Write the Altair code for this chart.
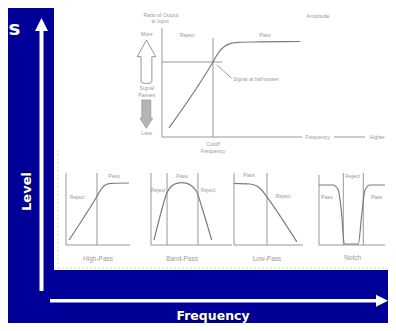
import altair as alt
import pandas as pd

# ---------------- data (normalised frequency 0..1, level 0..1) ----------------
main_freq = [0.05, 0.364, 0.40, 0.45, 0.498, 0.545, 0.70, 0.986]
main_level = [0.083, 0.688, 0.768, 0.835, 0.86, 0.869, 0.872, 0.876]
main_cutoff = 0.364
main_half_power = 0.688

hp_freq = [0.047, 0.48, 0.558, 0.636, 0.714, 0.984]
hp_level = [0.069, 0.671, 0.788, 0.843, 0.857, 0.861]
hp_cutoffs = [0.484]

bp_freq = [0.037, 0.132, 0.194, 0.255, 0.317, 0.379, 0.441, 0.503, 0.564, 0.626, 0.749]
bp_level = [0.069, 0.486, 0.718, 0.819, 0.856, 0.865, 0.856, 0.819, 0.74, 0.532, 0.069]
bp_cutoffs = [0.198, 0.58]

lp_freq = [0.0, 0.232, 0.329, 0.401, 0.474, 0.909]
lp_level = [0.857, 0.847, 0.819, 0.764, 0.671, 0.046]
lp_cutoffs = [0.478]

notch_freq = [0.0, 0.212, 0.292, 0.344, 0.383, 0.595, 0.647, 0.697, 0.773, 1.0]
notch_level = [0.857, 0.857, 0.786, 0.429, 0.014, 0.014, 0.429, 0.786, 0.857, 0.857]
notch_cutoffs = [0.368, 0.671]

main_labels = ["Ratio of Output", "to Input", "Amplitude", "Reject", "Pass",
               "Signal at half-power", "Frequency", "Higher", "Cutoff", "Frequency",
               "More", "Signal", "Passes", "Less"]
main_label_f = [-0.007, -0.014, 1.114, 0.179, 0.736, 0.671, 1.111, 1.536, 0.364, 0.364,
                -0.109, -0.109, -0.109, -0.109]
main_label_l = [1.119, 1.064, 1.11, 0.936, 0.936, 0.532, 0.0, 0.0, -0.064, -0.128,
                0.942, 0.452, 0.385, 0.034]

hp_labels = ["Reject", "Pass", "High-Pass"]
hp_label_f = [0.172, 0.75, 0.5]
hp_label_l = [0.667, 0.958, -0.194]

bp_labels = ["Reject", "Pass", "Reject", "Band-Pass"]
bp_label_f = [0.086, 0.383, 0.704, 0.383]
bp_label_l = [0.764, 0.958, 0.764, -0.194]

lp_labels = ["Pass", "Reject", "Low-Pass"]
lp_label_f = [0.217, 0.71, 0.478]
lp_label_l = [0.972, 0.681, -0.194]

notch_labels = ["Reject", "Pass", "Pass", "Notch"]
notch_label_f = [0.51, 0.117, 0.874, 0.51]
notch_label_l = [0.986, 0.69, 0.69, -0.186]

# ---------------- layout ----------------
OX, OY = 8, 8          # page margin
W, H = 380, 315
BLUE = "#000099"
LINE = "#7c7c7c"
TXT = "#9a9a9a"

# panel frames in page pixels: (x of level axis, end of freq axis, y of freq axis, top of level axis)
FRAME_MAIN = (162, 302, 137, 28)
FRAME_HP = (66, 130, 245, 173)
FRAME_BP = (151, 232, 245, 173)
FRAME_LP = (234, 303, 245, 173)
FRAME_NOTCH = (319, 385, 245, 175)


def lin(domain, rng):
    return alt.Scale(domain=domain, range=rng, nice=False, zero=False)


def panel(frame, freq, level, cutoffs, labels, lf, ll, name_idx=None,
          cutoff_top=1.0, extra_segs=None, extra_layers=None):
    x0, x1, yb, yt = frame
    xs = lin([0, 1], [x0 - OX, x1 - OX])
    ys = lin([0, 1], [yb - OY, yt - OY])

    curve = pd.DataFrame({"f": freq, "l": level, "i": range(len(freq))})
    segs = [(0, 0, 0, 1), (0, 0, 1, 0)] + [(c, 0, c, cutoff_top) for c in cutoffs]
    if extra_segs:
        segs += extra_segs
    seg_df = pd.DataFrame(segs, columns=["f", "l", "f2", "l2"])
    sizes = [5.2] * len(labels)
    if name_idx is not None:
        sizes[name_idx] = 6.5
    lab_df = pd.DataFrame({"t": labels, "f": lf, "l": ll, "fs": sizes})

    X = alt.X("f:Q", scale=xs, axis=None)
    Y = alt.Y("l:Q", scale=ys, axis=None)

    rules = alt.Chart(seg_df).mark_rule(color="#8c8c8c", strokeWidth=0.9).encode(
        x=X, y=Y, x2="f2:Q", y2="l2:Q")
    line = alt.Chart(curve).mark_line(color=LINE, strokeWidth=1.2, interpolate="monotone").encode(
        x=X, y=Y, order="i:Q")
    text = alt.Chart(lab_df).mark_text(color=TXT, font="Liberation Sans", baseline="middle").encode(
        x=X, y=Y, text="t:N", size=alt.Size("fs:Q", scale=None, legend=None))
    layers = [rules, line, text]
    if extra_layers:
        layers += [l(X, Y) for l in extra_layers]
    return alt.layer(*layers)


# hollow "signal passes more" arrow and shaded "less" arrow in main panel
UP_HOLLOW = "M0,-1L0.43,-0.23L0.25,-0.23L0.25,0.9Q0.25,1,0,1Q-0.25,1,-0.25,0.9L-0.25,-0.23L-0.43,-0.23Z"
DOWN_SOLID = "M-0.32,-1L0.32,-1L0.32,0.29L0.45,0.29L0,1L-0.45,0.29L-0.32,0.29Z"


def hollow_arrow(X, Y):
    return alt.Chart(pd.DataFrame({"f": [-0.111], "l": [0.691]})).mark_point(
        shape=UP_HOLLOW, size=1875, filled=False, stroke="#8a8a8a", strokeWidth=0.9, opacity=1
    ).encode(x=X, y=Y)


def solid_arrow(X, Y):
    return alt.Chart(pd.DataFrame({"f": [-0.112], "l": [0.21]})).mark_point(
        shape=DOWN_SOLID, size=800, filled=True, fill="#b4b4b4", stroke="#8a8a8a",
        strokeWidth=0.6, opacity=1
    ).encode(x=X, y=Y)


main = panel(FRAME_MAIN, main_freq, main_level, [main_cutoff], main_labels,
             main_label_f, main_label_l, cutoff_top=0.908,
             extra_segs=[(0, main_half_power, 0.43, main_half_power),
                         (0.391, 0.661, 0.498, 0.539),
                         (1.229, 0.0, 1.45, 0.0)],
             extra_layers=[hollow_arrow, solid_arrow])
hp = panel(FRAME_HP, hp_freq, hp_level, hp_cutoffs, hp_labels, hp_label_f, hp_label_l, name_idx=2)
bp = panel(FRAME_BP, bp_freq, bp_level, bp_cutoffs, bp_labels, bp_label_f, bp_label_l, name_idx=3)
lp = panel(FRAME_LP, lp_freq, lp_level, lp_cutoffs, lp_labels, lp_label_f, lp_label_l, name_idx=2)
notch = panel(FRAME_NOTCH, notch_freq, notch_level, notch_cutoffs, notch_labels,
              notch_label_f, notch_label_l, name_idx=3, cutoff_top=1.03)

# ---------------- page decorations (page pixel coordinates) ----------------
PX = alt.Scale(domain=[OX, OX + W], range=[0, W], nice=False, zero=False)
PY = alt.Scale(domain=[OY, OY + H], range=[0, H], nice=False, zero=False)
PXe = lambda f: alt.X(f, type="quantitative", scale=PX, axis=None)
PYe = lambda f: alt.Y(f, type="quantitative", scale=PY, axis=None)

sheet = alt.Chart(pd.DataFrame({"x": [54], "x2": [393], "y": [4], "y2": [270]})).mark_rect(
    color="white").encode(x=PXe("x"), x2="x2:Q", y=PYe("y"), y2="y2:Q")
dotted = alt.Chart(pd.DataFrame({"x": [58, 58], "x2": [58, 392], "y": [150, 268], "y2": [268, 268]})
                   ).mark_rule(color="#d0d0d0", strokeWidth=0.8, strokeDash=[2, 2]).encode(
    x=PXe("x"), x2="x2:Q", y=PYe("y"), y2="y2:Q")
bg = alt.layer(sheet, dotted)

shafts = alt.Chart(pd.DataFrame({"x": [41.5, 50], "x2": [41.5, 379], "y": [30, 300.8], "y2": [291, 300.8],
                                 "w": [4, 3.6]})).mark_rule(color="white").encode(
    x=PXe("x"), x2="x2:Q", y=PYe("y"), y2="y2:Q", strokeWidth=alt.StrokeWidth("w:Q", scale=None, legend=None))
head_up = alt.Chart(pd.DataFrame({"x": [41.5], "y": [24.5]})).mark_point(
    shape="M0,-1L1,1L-1,1Z", size=169, filled=True, color="white", opacity=1).encode(
    x=PXe("x"), y=PYe("y"))
head_right = alt.Chart(pd.DataFrame({"x": [382], "y": [300.8]})).mark_point(
    shape="M1,0L-1,1L-1,-1Z", size=144, filled=True, color="white", opacity=1).encode(
    x=PXe("x"), y=PYe("y"))

big_text = pd.DataFrame({"t": ["Frequency", "s"], "x": [213, 8.5], "y": [315.5, 29], "fs": [12.5, 20]})
freq_shadow = alt.Chart(big_text.iloc[[0]]).mark_text(
    font="DejaVu Sans", fontWeight="bold", color="#000022", dx=1, dy=1, baseline="middle").encode(
    x=PXe("x"), y=PYe("y"), text="t:N", size=alt.Size("fs:Q", scale=None, legend=None))
freq_text = alt.Chart(big_text.iloc[[0]]).mark_text(
    font="DejaVu Sans", fontWeight="bold", color="white", baseline="middle").encode(
    x=PXe("x"), y=PYe("y"), text="t:N", size=alt.Size("fs:Q", scale=None, legend=None))
s_text = alt.Chart(big_text.iloc[[1]]).mark_text(
    font="DejaVu Sans", fontWeight="bold", color="white", baseline="middle", align="left").encode(
    x=PXe("x"), y=PYe("y"), text="t:N", size=alt.Size("fs:Q", scale=None, legend=None))
level_df = pd.DataFrame({"t": ["Level"], "x": [27], "y": [191.5]})
level_shadow = alt.Chart(level_df).mark_text(
    font="DejaVu Sans", fontWeight="bold", fontSize=13, color="#000022", angle=270,
    dx=1, dy=1, baseline="middle").encode(x=PXe("x"), y=PYe("y"), text="t:N")
level_text = alt.Chart(level_df).mark_text(
    font="DejaVu Sans", fontWeight="bold", fontSize=13, color="white", angle=270,
    baseline="middle").encode(x=PXe("x"), y=PYe("y"), text="t:N")
fg = alt.layer(shafts, head_up, head_right, freq_shadow, freq_text, s_text, level_shadow, level_text)

chart = alt.layer(bg, main, hp, bp, lp, notch, fg).resolve_scale(
    x="independent", y="independent", size="independent", strokeWidth="independent"
).properties(
    width=W, height=H, padding=0, background=BLUE,
    autosize=alt.AutoSizeParams(type="none")
).configure_view(stroke=None)

chart.save("out.html", embed_options={"renderer": "svg", "actions": False})
